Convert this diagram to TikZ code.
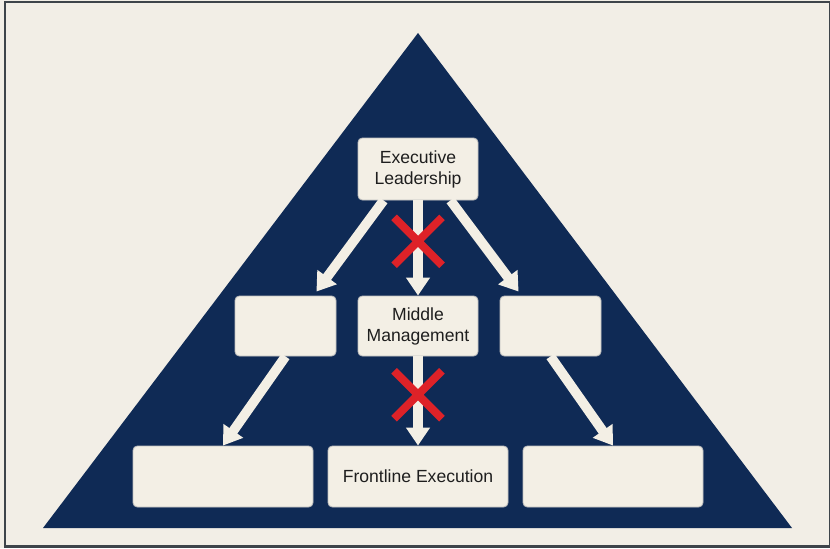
\documentclass[tikz,border=0pt]{standalone}
\usepackage{fontspec}
\setmainfont{Liberation Sans}
\usepackage{xcolor}
\usepackage{tikz}
\usetikzlibrary{arrows.meta, positioning, shapes.misc}
\definecolor{mynavy}{RGB}{15,42,85}
\definecolor{mycream}{RGB}{242,238,230}
\definecolor{boxcream}{RGB}{243,239,229}
\definecolor{myred}{RGB}{222,34,40}
\definecolor{mydark}{RGB}{30,30,30}
\definecolor{myframe}{RGB}{62,68,74}
\tikzset{
  tierbox/.style={rectangle, draw=black!25, fill=boxcream, text=mydark,
    align=center, font=\normalsize, rounded corners=2.5pt, line width=0.5pt,
    inner sep=0pt},
  flow/.style={-{Triangle[width=0.46cm, length=0.36cm]}, line width=5.5pt,
    color=boxcream},
  xmark/.style={cross out, draw=myred, -, line width=4.5pt,
    minimum size=0.8cm, inner sep=0pt}
}

\begin{document}
\begin{tikzpicture}
  \useasboundingbox (0,0) rectangle (16.6,10.96);
  \fill[mycream] (0,0) rectangle (16.6,10.96);
  \draw[myframe, line width=1.2pt] (0.1,0.03) rectangle (16.6,10.92);

  % pyramid
  \fill[mynavy] (0.86,0.4) -- (8.36,10.3) -- (15.84,0.4) -- cycle;

  % tiers
  \node[tierbox, minimum width=2.4cm, minimum height=1.24cm] (exec) at (8.36,7.58)
    {Executive\\Leadership};
  \node[tierbox, minimum width=2.4cm, minimum height=1.2cm] (mid) at (8.36,4.44)
    {Middle\\Management};
  \node[tierbox, minimum width=2.02cm, minimum height=1.2cm] (midL) at (5.71,4.44) {};
  \node[tierbox, minimum width=2.02cm, minimum height=1.2cm] (midR) at (11.01,4.44) {};
  \node[tierbox, minimum width=3.6cm, minimum height=1.22cm] (bot) at (8.36,1.43)
    {Frontline Execution};
  \node[tierbox, minimum width=3.6cm, minimum height=1.22cm] (botL) at (4.46,1.43) {};
  \node[tierbox, minimum width=3.6cm, minimum height=1.22cm] (botR) at (12.26,1.43) {};

  % cascade arrows
  \draw[flow] (exec) -- (mid) node[xmark, pos=0.43] {};
  \draw[flow] ([xshift=0.52cm]exec.south west) -- ([xshift=-0.4cm, yshift=0.08cm]midL.north east);
  \draw[flow] ([xshift=-0.56cm]exec.south east) -- ([xshift=0.38cm, yshift=0.08cm]midR.north west);
  \draw[flow] (mid) -- (bot) node[xmark, pos=0.43] {};
  \draw[flow] (midL.south) -- (botL.north);
  \draw[flow] (midR.south) -- (botR.north);
\end{tikzpicture}
\end{document}
